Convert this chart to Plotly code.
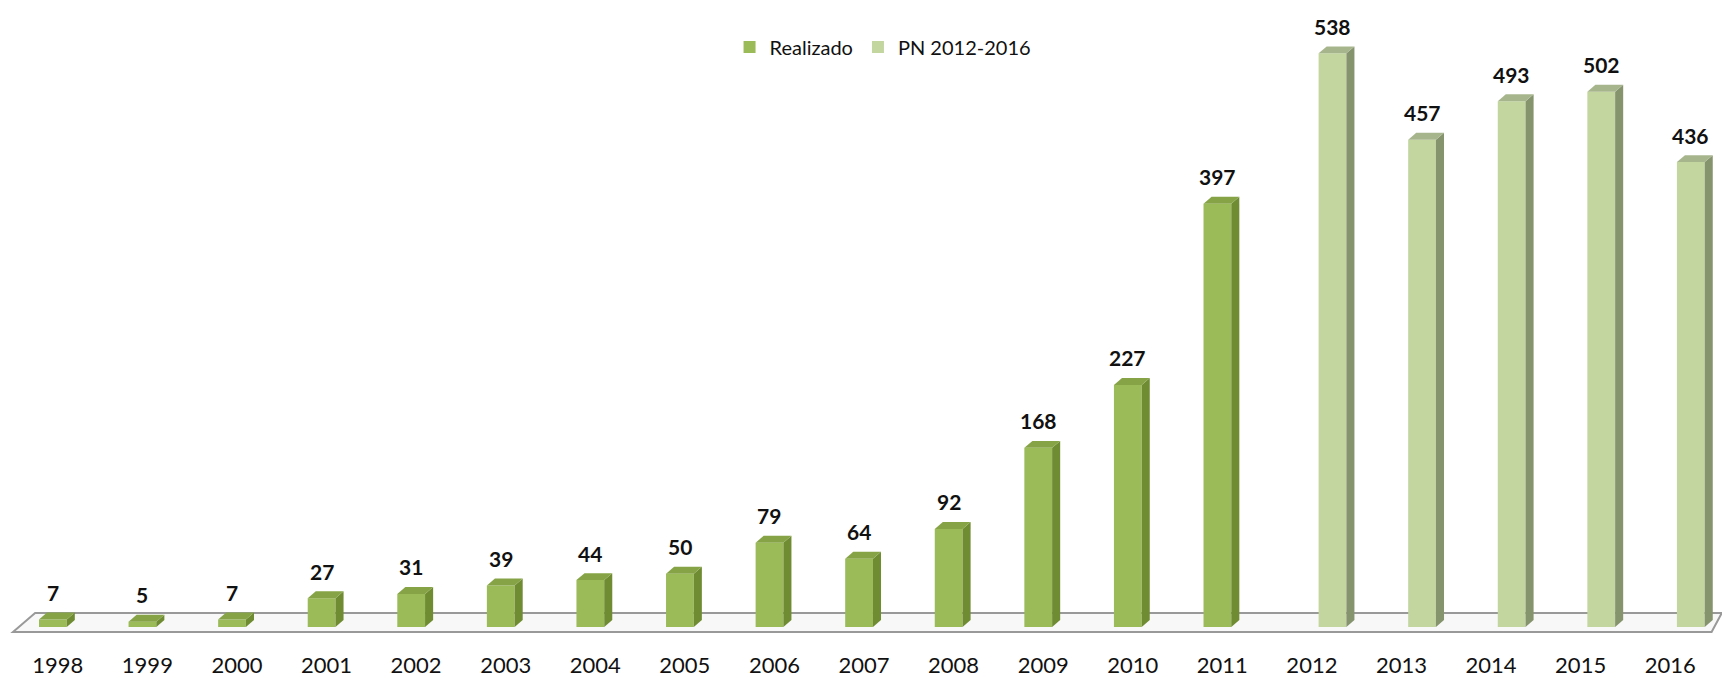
import plotly.graph_objects as go

years = ["1998", "1999", "2000", "2001", "2002", "2003", "2004", "2005", "2006", "2007",
         "2008", "2009", "2010", "2011", "2012", "2013", "2014", "2015", "2016"]
realizado = [7, 5, 7, 27, 31, 39, 44, 50, 79, 64, 92, 168, 227, 397, None, None, None, None, None]
pn = [None] * 14 + [538, 457, 493, 502, 436]

series = [
    dict(name="Realizado", values=realizado, front="#9bbb59", side="#6f8c33", top="#86a446", offset=-0.21),
    dict(name="PN 2012-2016", values=pn, front="#c3d69f", side="#86946e", top="#a7b58c", offset=0.075),
]
BAR_W = 0.31
DX = 0.09   # depth in x units
DY = 6.5    # depth in y units
FONT = "Lato, Noto Sans, sans-serif"

fig = go.Figure()
shapes = []
annotations = []

# floor (decorative)
shapes.append(dict(type="path", xref="paper", yref="paper",
                   path="M 0,-0.008 L 0.013,0.0223 L 1.004,0.0223 L 0.998,-0.008 Z",
                   fillcolor="#f8f8f8", line=dict(color="#999999", width=2), layer="below"))

xs = list(range(len(years)))
for s in series:
    fig.add_trace(go.Bar(x=xs, y=s["values"], name=s["name"], width=BAR_W, offset=s["offset"],
                         marker=dict(color=s["front"], line=dict(width=0))))
    for i, v in enumerate(s["values"]):
        if v is None:
            continue
        xl = i + s["offset"]
        xr = xl + BAR_W
        # side face
        shapes.append(dict(type="path", xref="x", yref="y",
                           path=f"M {xr},0 L {xr+DX},{DY} L {xr+DX},{v+DY} L {xr},{v} Z",
                           fillcolor=s["side"], line=dict(width=0), layer="above"))
        # top face
        shapes.append(dict(type="path", xref="x", yref="y",
                           path=f"M {xl},{v} L {xl+DX},{v+DY} L {xr+DX},{v+DY} L {xr},{v} Z",
                           fillcolor=s["top"], line=dict(width=0), layer="above"))
        annotations.append(dict(x=(xl + xr) / 2, y=v, xref="x", yref="y", text=f"<b>{v}</b>",
                                showarrow=False, yanchor="middle", yshift=27,
                                font=dict(family=FONT, size=21, color="#111111")))

fig.update_layout(
    width=1722, height=678,
    margin=dict(l=13, r=7, t=0, b=51),
    paper_bgcolor="white", plot_bgcolor="white",
    barmode="overlay",
    shapes=shapes, annotations=annotations,
    showlegend=True,
    legend=dict(orientation="h", x=0.421, xanchor="left", y=0.925, yanchor="middle",
                font=dict(family=FONT, size=20, color="#111111"),
                itemwidth=30, bgcolor="rgba(0,0,0,0)"),
    xaxis=dict(range=[-0.5, 18.5], tickmode="array", tickvals=xs, ticktext=years,
               showgrid=False, zeroline=False, showline=False,
               ticks="outside", ticklen=19, tickcolor="rgba(0,0,0,0)",
               tickfont=dict(family=FONT, size=22, color="#111111")),
    yaxis=dict(range=[0, 588], visible=False, showgrid=False, zeroline=False),
)

fig.write_html("out.html", config={"displayModeBar": False},
               post_script="document.body.style.margin='0px';document.body.style.overflow='hidden';")
